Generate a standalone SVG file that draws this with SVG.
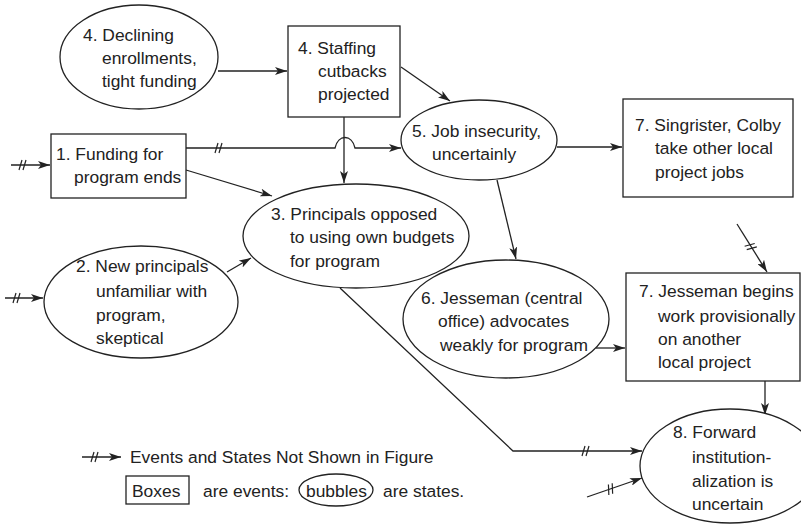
<svg xmlns="http://www.w3.org/2000/svg" width="801" height="524" viewBox="0 0 801 524">
<style>
.shape{fill:#fff;stroke:#222;stroke-width:1.3}
.t{font-family:"Liberation Sans",Arial,sans-serif;font-size:17.4px;fill:#222}
.c{fill:none;stroke:#222;stroke-width:1.3}
.h{fill:none;stroke:#222;stroke-width:1.2}
</style>
<defs>
<marker id="ah" viewBox="0 0 12 8" refX="12" refY="4" markerWidth="12" markerHeight="8" orient="auto" markerUnits="userSpaceOnUse">
<path d="M0,0 L12,4 L0,8 L3,4 z" fill="#222"/>
</marker>
<path id="hh" class="h" d="M-4,5 L-1,-5 M0,5 L3,-5"/>
</defs>
<rect width="801" height="524" fill="#fff"/>

<g id="connectors">
<path class="c" d="M218,71 H287" marker-end="url(#ah)"/>
<path class="c" d="M401,67 L450,101" marker-end="url(#ah)"/>
<path class="c" d="M344,117 V183" marker-end="url(#ah)"/>
<path class="c" d="M186,148 H335 C338,134 352,134 355,148 H401" marker-end="url(#ah)"/>
<use href="#hh" x="219" y="148"/>
<path class="c" d="M186,170 L272,196" marker-end="url(#ah)"/>
<path class="c" d="M227,272 L251,258" marker-end="url(#ah)"/>
<path class="c" d="M5,298 H43" marker-end="url(#ah)"/>
<use href="#hh" x="17" y="298"/>
<path class="c" d="M11,165 H50" marker-end="url(#ah)"/>
<use href="#hh" x="23" y="165"/>
<path class="c" d="M557,147 H622" marker-end="url(#ah)"/>
<path class="c" d="M497,180 L516,259" marker-end="url(#ah)"/>
<path class="c" d="M737,224 L767,272" marker-end="url(#ah)"/>
<use href="#hh" transform="translate(751,247) rotate(58)"/>
<path class="c" d="M596,348 H625" marker-end="url(#ah)"/>
<path class="c" d="M765,381 V415" marker-end="url(#ah)"/>
<path class="c" d="M340,288 L513,451 H642" marker-end="url(#ah)"/>
<use href="#hh" x="586" y="451"/>
<path class="c" d="M587,497 L642,478" marker-end="url(#ah)"/>
<use href="#hh" transform="translate(611,489) rotate(-19)"/>
</g>

<g id="n4a">
<ellipse class="shape" cx="139" cy="57" rx="79" ry="52"/>
<text class="t" x="83" y="41">4. Declining</text>
<text class="t" x="102" y="64">enrollments,</text>
<text class="t" x="102" y="87">tight funding</text>
</g>
<g id="n4b">
<rect class="shape" x="288" y="26" width="112" height="91"/>
<text class="t" x="298" y="54">4. Staffing</text>
<text class="t" x="318" y="77">cutbacks</text>
<text class="t" x="318" y="100">projected</text>
</g>
<g id="n1">
<rect class="shape" x="51" y="134" width="135" height="64"/>
<text class="t" x="56" y="160">1. Funding for</text>
<text class="t" x="74" y="183">program ends</text>
</g>
<g id="n3">
<ellipse class="shape" cx="356" cy="236" rx="113" ry="52"/>
<text class="t" x="271" y="220">3. Principals opposed</text>
<text class="t" x="290" y="243">to using own budgets</text>
<text class="t" x="290" y="267">for program</text>
</g>
<g id="n5">
<ellipse class="shape" cx="479" cy="140" rx="78" ry="40"/>
<text class="t" x="412" y="137">5. Job insecurity,</text>
<text class="t" x="432" y="160">uncertainly</text>
</g>
<g id="n7a">
<rect class="shape" x="623" y="99" width="170" height="98"/>
<text class="t" x="635" y="131">7. Singrister, Colby</text>
<text class="t" x="655" y="154">take other local</text>
<text class="t" x="655" y="178">project jobs</text>
</g>
<g id="n2">
<ellipse class="shape" cx="141" cy="302" rx="97" ry="56"/>
<text class="t" x="76" y="272">2. New principals</text>
<text class="t" x="96" y="297">unfamiliar with</text>
<text class="t" x="96" y="321">program,</text>
<text class="t" x="96" y="344">skeptical</text>
</g>
<g id="n6">
<ellipse class="shape" cx="506" cy="319" rx="103" ry="59"/>
<text class="t" x="421" y="304">6. Jesseman (central</text>
<text class="t" x="438" y="327">office) advocates</text>
<text class="t" x="440" y="351">weakly for program</text>
</g>
<g id="n7b">
<rect class="shape" x="626" y="273" width="174" height="108"/>
<text class="t" x="639" y="297">7. Jesseman begins</text>
<text class="t" x="658" y="322">work provisionally</text>
<text class="t" x="658" y="345">on another</text>
<text class="t" x="658" y="368">local project</text>
</g>
<g id="n8">
<ellipse class="shape" cx="730" cy="466" rx="90" ry="57"/>
<text class="t" x="673" y="438">8. Forward</text>
<text class="t" x="692" y="463">institution-</text>
<text class="t" x="692" y="487">alization is</text>
<text class="t" x="692" y="510">uncertain</text>
</g>

<g id="legend">
<path class="c" d="M82,457 H121" marker-end="url(#ah)"/>
<use href="#hh" x="95" y="457"/>
<text class="t" x="130" y="463">Events and States Not Shown in Figure</text>
<rect class="shape" x="126" y="476" width="63" height="28"/>
<text class="t" x="132" y="497">Boxes</text>
<text class="t" x="203" y="497">are events:</text>
<ellipse class="shape" cx="336" cy="490" rx="37" ry="16"/>
<text class="t" x="306" y="497">bubbles</text>
<text class="t" x="383" y="497">are states.</text>
</g>
</svg>
